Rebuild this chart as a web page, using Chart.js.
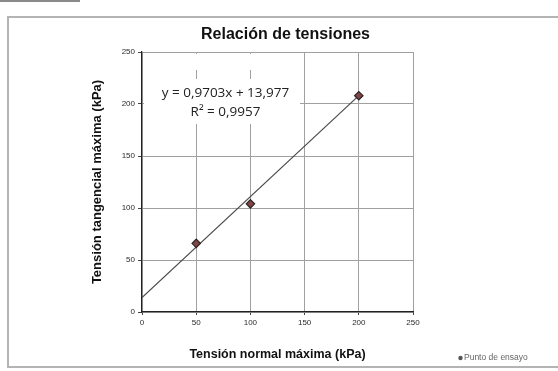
<!DOCTYPE html>
<html>
<head>
<meta charset="utf-8">
<script src="https://cdn.jsdelivr.net/npm/chart.js@4"></script>
<style>
  html, body { margin: 0; padding: 0; background: #ffffff; }
  #wrap { width: 558px; height: 371px; }
</style>
</head>
<body>
<div id="wrap"><canvas id="c" width="558" height="371"></canvas></div>
<script>
// Test points: normal stress vs. shear stress (kPa)
const normalStress = [50, 100, 200];
const shearStress = [66, 104, 208];

// Linear trendline coefficients and the x-range it spans
const fitSlope = 0.9703;
const fitIntercept = 13.977;
const fitR2 = 0.9957;
const fitRange = [0, 200];

// Axis ticks
const xTicks = [0, 50, 100, 150, 200, 250];
const yTicks = [0, 50, 100, 150, 200, 250];

const chartTitle = 'Relación de tensiones';
const xTitle = 'Tensión normal máxima (kPa)';
const yTitle = 'Tensión tangencial máxima (kPa)';
const legendLabel = 'Punto de ensayo';

const fmt = (v, d) => v.toFixed(d).replace('.', ',');

const points = normalStress.map((x, i) => ({ x: x, y: shearStress[i] }));
const fitLine = fitRange.map(x => ({ x: x, y: fitSlope * x + fitIntercept }));

// Frame, title, trendline label and legend drawn around the plot
const decorations = {
  id: 'decorations',
  beforeDraw(chart) {
    const ctx = chart.ctx;
    ctx.save();
    ctx.fillStyle = '#ffffff';
    ctx.fillRect(0, 0, chart.width, chart.height);
    ctx.strokeStyle = '#b4b4b4';
    ctx.lineWidth = 2;
    ctx.strokeRect(8, 17, 560, 350);
    ctx.strokeStyle = '#8a8a8a';
    ctx.lineWidth = 2;
    ctx.beginPath();
    ctx.moveTo(0, 1);
    ctx.lineTo(80, 1);
    ctx.stroke();
    ctx.restore();
  },
  beforeDatasetsDraw(chart) {
    const ctx = chart.ctx;
    const a = chart.chartArea;
    ctx.save();
    ctx.fillStyle = '#ffffff';
    ctx.fillRect(a.left + 2, a.top + 2, 156, 16);
    ctx.fillRect(a.left + 2, a.top + 27, 156, 45);
    ctx.restore();
  },
  afterDraw(chart) {
    const ctx = chart.ctx;
    const a = chart.chartArea;
    const xs = chart.scales.x;
    ctx.save();
    ctx.textAlign = 'center';
    ctx.textBaseline = 'middle';
    ctx.fillStyle = '#111111';
    ctx.font = 'bold 16px "Liberation Sans", Arial, sans-serif';
    ctx.fillText(chartTitle, (a.left + a.right) / 2 + 8, 35);

    ctx.fillStyle = '#222222';
    ctx.font = '13.5px "Open Sans", sans-serif';
    const eq = 'y = ' + fmt(fitSlope, 4) + 'x + ' + fmt(fitIntercept, 3);
    const cx = xs.getPixelForValue(77);
    ctx.fillText(eq, cx, 93);
    ctx.fillText('R² = ' + fmt(fitR2, 4), cx, 112);

    ctx.textAlign = 'left';
    ctx.fillStyle = '#666666';
    ctx.font = '8.5px "Liberation Sans", Arial, sans-serif';
    ctx.fillText(legendLabel, 464, 358);
    ctx.fillStyle = '#555555';
    ctx.beginPath();
    ctx.arc(460.5, 358, 2.2, 0, Math.PI * 2);
    ctx.fill();
    ctx.restore();
  }
};

new Chart(document.getElementById('c'), {
  type: 'scatter',
  data: {
    datasets: [
      {
        label: legendLabel,
        data: points,
        pointStyle: 'rectRot',
        pointRadius: 4.2,
        pointBackgroundColor: '#7e4646',
        pointBorderColor: '#2b2222',
        pointBorderWidth: 1.2,
        order: 1
      },
      {
        label: 'Lineal',
        type: 'line',
        data: fitLine,
        borderColor: '#4a4a4a',
        borderWidth: 1.2,
        pointRadius: 0,
        fill: false,
        order: 2
      }
    ]
  },
  options: {
    responsive: false,
    animation: false,
    devicePixelRatio: 1,
    layout: { padding: { left: 88, right: 145, top: 52, bottom: 6 } },
    plugins: {
      legend: { display: false },
      title: { display: false },
      tooltip: { enabled: false }
    },
    scales: {
      x: {
        type: 'linear',
        min: 0,
        max: 250,
        afterBuildTicks(scale) { scale.ticks = xTicks.map(v => ({ value: v })); },
        afterFit(scale) { scale.height = 53; },
        grid: { color: '#a0a0a0', lineWidth: 1, tickLength: 3, tickColor: '#444444' },
        border: { color: '#222222', width: 1.2 },
        ticks: {
          padding: 3,
          color: '#2a2a2a',
          font: { family: '"Liberation Sans", Arial, sans-serif', size: 8 },
          callback: v => String(v)
        },
        title: {
          display: true,
          text: xTitle,
          color: '#111111',
          font: { family: '"Liberation Sans", Arial, sans-serif', size: 12.5, weight: 'bold' },
          padding: { top: 0, bottom: 3 }
        }
      },
      y: {
        type: 'linear',
        min: 0,
        max: 250,
        afterBuildTicks(scale) { scale.ticks = yTicks.map(v => ({ value: v })); },
        afterFit(scale) { scale.width = 54; },
        grid: { color: '#a0a0a0', lineWidth: 1, tickLength: 4, tickColor: '#444444' },
        border: { color: '#222222', width: 1.2 },
        ticks: {
          padding: 3,
          color: '#2a2a2a',
          font: { family: '"Liberation Sans", Arial, sans-serif', size: 8 },
          callback: v => String(v)
        },
        title: {
          display: true,
          text: yTitle,
          color: '#111111',
          font: { family: '"Liberation Sans", Arial, sans-serif', size: 13, weight: 'bold' },
          padding: { top: 2, bottom: 0 }
        }
      }
    }
  },
  plugins: [decorations]
});
</script>
</body>
</html>
